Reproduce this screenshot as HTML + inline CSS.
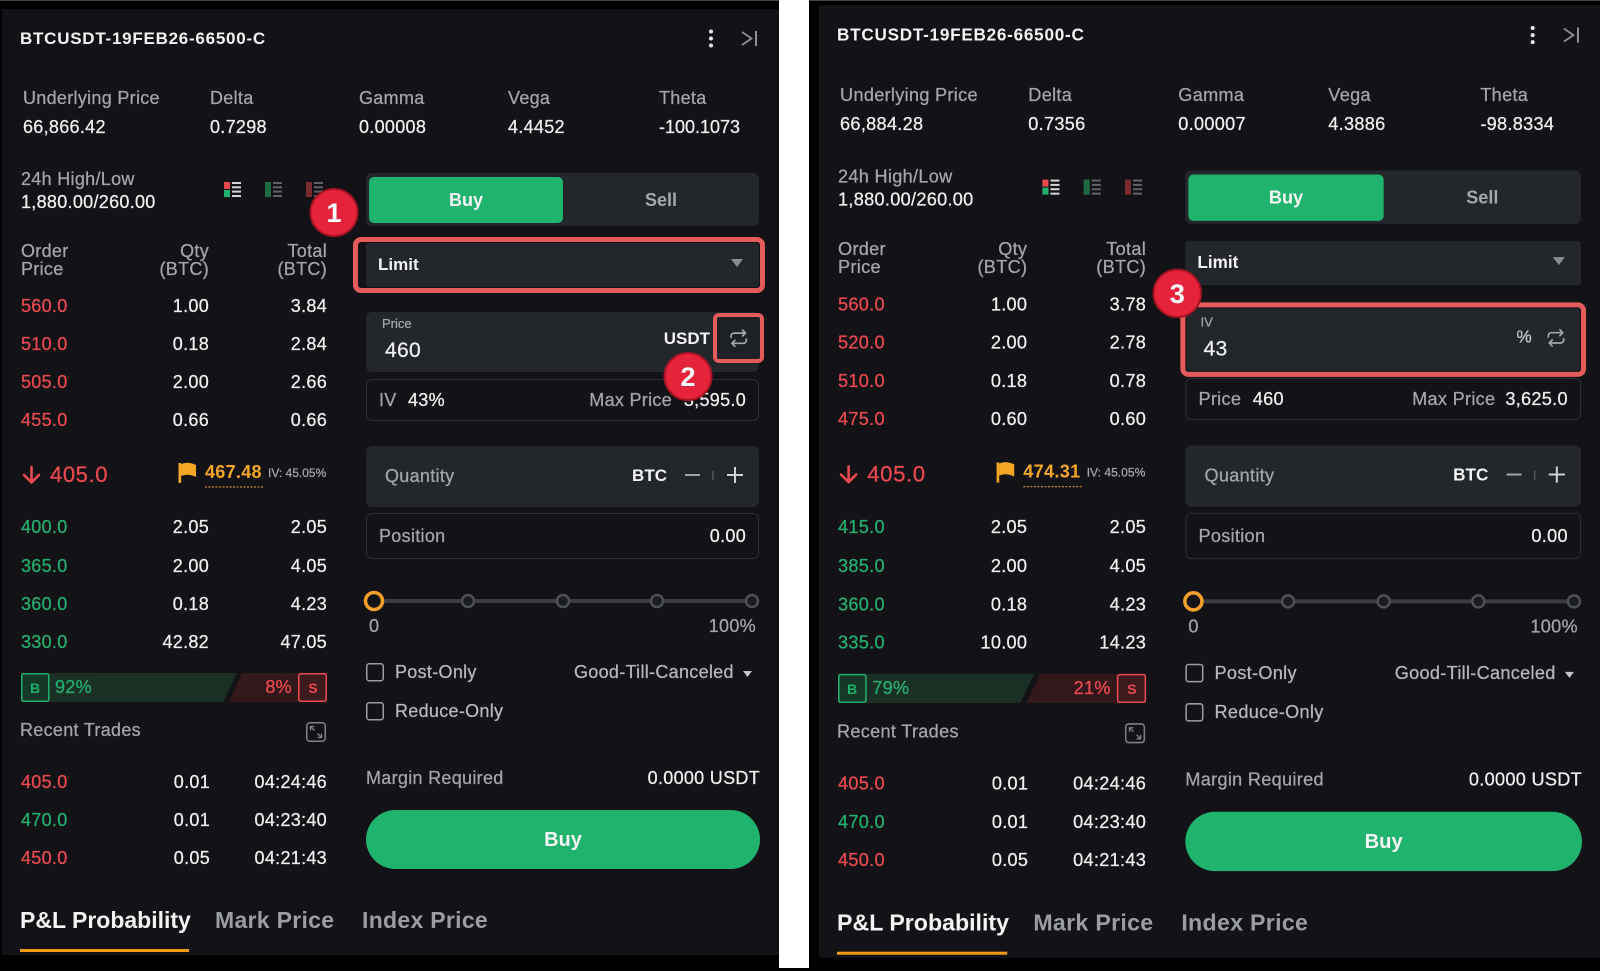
<!DOCTYPE html>
<html><head><meta charset="utf-8">
<style>
*{box-sizing:border-box}
html,body{margin:0;padding:0}
body{width:1600px;height:968px;overflow:hidden;background:#000;position:relative;font-family:"Liberation Sans",sans-serif}
.p{position:absolute;left:0;top:0;width:780px;height:968px}
.p2{transform:translate(816.9px,-3.65px) scale(1.0067);transform-origin:0 0}
.bg{position:absolute;left:2px;top:9px;width:777px;height:946px;background:#131317}
.t{position:absolute;white-space:nowrap;font-size:18px;line-height:20px;letter-spacing:0.3px;color:#f0f0f0;-webkit-text-stroke:0.25px currentColor}
.g{color:#a3a6ab}
.w{color:#f0f0f0}
.r{color:#ec4a50}
.gr{color:#22b06d}
.o{color:#f5a623}
.b{font-weight:bold;-webkit-text-stroke:0}
.bx{position:absolute;background:#23262b;border-radius:6px}
.ol{position:absolute;border:1px solid #2c2f35;border-radius:6px}
.red{position:absolute;border:5px solid #e55a5a;border-radius:8px}
svg.s{position:absolute;left:0;top:0}
</style></head><body>

<div style="position:absolute;left:0;top:0;width:779px;height:1px;background:#444"></div>
<div style="position:absolute;left:809px;top:0;width:791px;height:1px;background:#444"></div>
<div style="position:absolute;left:779px;top:0;width:30px;height:968px;background:#fff"></div>

<!-- ================= LEFT PANEL ================= -->
<div class="p">
<div class="bg"></div>

<div class="bx" style="left:366px;top:173px;width:393px;height:53px;border-radius:6px"></div>
<div style="position:absolute;left:369px;top:177px;width:194px;height:46px;background:#1fb36e;border-radius:5px"></div>

<div class="red" style="left:353px;top:237px;width:412px;height:56px"></div>
<div class="bx" style="left:366px;top:243px;width:393px;height:44px;border-radius:3px"></div>

<div class="bx" style="left:366px;top:312px;width:393px;height:60px"></div>
<div style="position:absolute;left:713px;top:313px;width:51px;height:50px;border:4.5px solid #e55a5a;border-radius:6px;background:#1d2024"></div>

<div class="ol" style="left:366px;top:379px;width:393px;height:42px"></div>
<div class="bx" style="left:366px;top:446px;width:393px;height:61px"></div>
<div class="ol" style="left:366px;top:513px;width:393px;height:46px"></div>
<div style="position:absolute;left:366px;top:810px;width:394px;height:59px;background:#1fb36e;border-radius:30px"></div>
<div style="position:absolute;left:20px;top:949px;width:169px;height:3px;background:#f39c12"></div>

<svg class="s" width="780" height="968">
<circle cx="711" cy="31.5" r="2" fill="#e8e8e8"/><circle cx="711" cy="38.5" r="2" fill="#e8e8e8"/><circle cx="711" cy="45.5" r="2" fill="#e8e8e8"/>
<polyline points="742,32 751.5,38.5 742,45" fill="none" stroke="#8e9196" stroke-width="1.8"/>
<line x1="756" y1="31" x2="756" y2="46" stroke="#8e9196" stroke-width="2"/>
<rect x="224" y="182" width="6" height="7" fill="#e5484d"/>
<rect x="224" y="190" width="6" height="7" fill="#22b06d"/>
<g fill="#d4d5d8"><rect x="232" y="182" width="9" height="2"/><rect x="232" y="186.3" width="9" height="2"/><rect x="232" y="190.6" width="9" height="2"/><rect x="232" y="195" width="9" height="2"/></g>
<rect x="265" y="182" width="6" height="15" fill="#1f6a43"/>
<g fill="#5f6267"><rect x="273" y="182" width="9" height="2"/><rect x="273" y="186.3" width="9" height="2"/><rect x="273" y="190.6" width="9" height="2"/><rect x="273" y="195" width="9" height="2"/></g>
<rect x="306" y="182" width="6" height="15" fill="#7a2b30"/>
<g fill="#5f6267"><rect x="314" y="182" width="9" height="2"/><rect x="314" y="186.3" width="9" height="2"/><rect x="314" y="190.6" width="9" height="2"/><rect x="314" y="195" width="9" height="2"/></g>
<path d="M31.5 467 V482 M24 475 L31.5 482.5 L39 475" fill="none" stroke="#ec4a50" stroke-width="2.6" stroke-linecap="round" stroke-linejoin="round"/>
<rect x="178.5" y="463" width="2.6" height="20" fill="#f5a623"/>
<path d="M181 464 Q188 461 196 465 V477 Q188 473 181 476 Z" fill="#f5a623"/>
<line x1="205" y1="487" x2="264" y2="487" stroke="#c88a1e" stroke-width="1.2" stroke-dasharray="2 1.5"/>
<polygon points="21,673 237,673 223,702 21,702" fill="#1b3025"/>
<polygon points="242,673 327,673 327,702 229,702" fill="#32181b"/>
<rect x="21.75" y="673.75" width="27" height="27.5" rx="2" fill="#163826" stroke="#22b06d" stroke-width="1.5"/>
<rect x="298.75" y="673.75" width="27.5" height="27.5" rx="2" fill="#3d1a1e" stroke="#ec4a50" stroke-width="1.5"/>
<rect x="306.75" y="722.75" width="18.5" height="18.5" rx="3" fill="none" stroke="#7d8086" stroke-width="1.5"/>
<path d="M310.5 730.5 V726.5 H314.5 M310.5 726.5 L314.5 730.5 M321.5 733.5 V737.5 H317.5 M321.5 737.5 L317.5 733.5" fill="none" stroke="#7d8086" stroke-width="1.3"/>
<polygon points="731,259 743,259 737,267" fill="#8a8d93"/>
<g transform="translate(728.5,328) scale(0.85)" fill="none" stroke="#a3a6ab" stroke-width="2" stroke-linecap="round" stroke-linejoin="round"><path d="M3 11V9.5A3.5 3.5 0 0 1 6.5 6H20 M16.5 2.5 L20 6 L16.5 9.5 M21 13v1.5A3.5 3.5 0 0 1 17.5 18H4 M7.5 21.5 L4 18 L7.5 14.5"/></g>
<line x1="685" y1="475" x2="700" y2="475" stroke="#a0a3a8" stroke-width="2"/>
<line x1="713" y1="471" x2="713" y2="480" stroke="#55585e" stroke-width="1.5"/>
<path d="M727 475 H743 M735 467 V483" stroke="#d0d2d5" stroke-width="2"/>
<line x1="374" y1="601" x2="752" y2="601" stroke="#3a3d43" stroke-width="4"/>
<circle cx="468" cy="601" r="6" fill="#1a1c20" stroke="#4d5056" stroke-width="2.5"/>
<circle cx="563" cy="601" r="6" fill="#1a1c20" stroke="#4d5056" stroke-width="2.5"/>
<circle cx="657" cy="601" r="6" fill="#1a1c20" stroke="#4d5056" stroke-width="2.5"/>
<circle cx="752" cy="601" r="6" fill="#1a1c20" stroke="#4d5056" stroke-width="2.5"/>
<circle cx="374" cy="601" r="8.5" fill="#131317" stroke="#f5a02a" stroke-width="3.5"/>
<rect x="366.75" y="663.75" width="16.5" height="17" rx="2.5" fill="none" stroke="#9a9da3" stroke-width="1.5"/>
<rect x="366.75" y="702.75" width="16.5" height="17" rx="2.5" fill="none" stroke="#9a9da3" stroke-width="1.5"/>
<polygon points="743,671 752,671 747.5,677" fill="#c5c7cb"/>
</svg>

<div class="t b" style="left:20px;top:29px;font-size:17px;letter-spacing:0.75px;color:#f4f4f4">BTCUSDT-19FEB26-66500-C</div>

<div class="t g" style="left:23px;top:88px">Underlying Price</div>
<div class="t g" style="left:210px;top:88px">Delta</div>
<div class="t g" style="left:359px;top:88px">Gamma</div>
<div class="t g" style="left:508px;top:88px">Vega</div>
<div class="t g" style="left:659px;top:88px">Theta</div>
<div class="t w" style="left:23px;top:117px">66,866.42</div>
<div class="t w" style="left:210px;top:117px">0.7298</div>
<div class="t w" style="left:359px;top:117px">0.00008</div>
<div class="t w" style="left:508px;top:117px">4.4452</div>
<div class="t w" style="left:659px;top:117px;letter-spacing:0">-100.1073</div>

<div class="t g" style="left:21px;top:169px">24h High/Low</div>
<div class="t w" style="left:21px;top:192px">1,880.00/260.00</div>

<div class="t g" style="left:21px;top:242px;line-height:18px">Order<br>Price</div>
<div class="t g" style="right:571px;top:242px;line-height:18px;text-align:right">Qty<br>(BTC)</div>
<div class="t g" style="right:453px;top:242px;line-height:18px;text-align:right">Total<br>(BTC)</div>

<div class="t r" style="left:21px;top:296px">560.0</div><div class="t w" style="right:571px;top:296px">1.00</div><div class="t w" style="right:453px;top:296px">3.84</div>
<div class="t r" style="left:21px;top:334px">510.0</div><div class="t w" style="right:571px;top:334px">0.18</div><div class="t w" style="right:453px;top:334px">2.84</div>
<div class="t r" style="left:21px;top:372px">505.0</div><div class="t w" style="right:571px;top:372px">2.00</div><div class="t w" style="right:453px;top:372px">2.66</div>
<div class="t r" style="left:21px;top:410px">455.0</div><div class="t w" style="right:571px;top:410px">0.66</div><div class="t w" style="right:453px;top:410px">0.66</div>

<div class="t r" style="left:50px;top:462px;font-size:22px;line-height:26px;letter-spacing:0.6px">405.0</div>
<div class="t o b" style="left:205px;top:462px">467.48</div>
<div class="t g" style="left:268px;top:465px;font-size:12px;line-height:16px;letter-spacing:0">IV: 45.05%</div>

<div class="t gr" style="left:21px;top:517px">400.0</div><div class="t w" style="right:571px;top:517px">2.05</div><div class="t w" style="right:453px;top:517px">2.05</div>
<div class="t gr" style="left:21px;top:556px">365.0</div><div class="t w" style="right:571px;top:556px">2.00</div><div class="t w" style="right:453px;top:556px">4.05</div>
<div class="t gr" style="left:21px;top:594px">360.0</div><div class="t w" style="right:571px;top:594px">0.18</div><div class="t w" style="right:453px;top:594px">4.23</div>
<div class="t gr" style="left:21px;top:632px">330.0</div><div class="t w" style="right:571px;top:632px">42.82</div><div class="t w" style="right:453px;top:632px">47.05</div>

<div class="t gr b" style="left:21px;top:678px;width:28px;text-align:center;font-size:14px;letter-spacing:0">B</div>
<div class="t gr" style="left:55px;top:677px">92%</div>
<div class="t r" style="right:488px;top:677px">8%</div>
<div class="t r b" style="left:299px;top:678px;width:28px;text-align:center;font-size:14px;letter-spacing:0">S</div>

<div class="t g" style="left:20px;top:720px">Recent Trades</div>
<div class="t r" style="left:21px;top:772px">405.0</div><div class="t w" style="right:570px;top:772px">0.01</div><div class="t w" style="right:453px;top:772px">04:24:46</div>
<div class="t gr" style="left:21px;top:810px">470.0</div><div class="t w" style="right:570px;top:810px">0.01</div><div class="t w" style="right:453px;top:810px">04:23:40</div>
<div class="t r" style="left:21px;top:848px">450.0</div><div class="t w" style="right:570px;top:848px">0.05</div><div class="t w" style="right:453px;top:848px">04:21:43</div>

<div class="t b" style="left:369px;top:190px;width:194px;text-align:center;font-size:18px;letter-spacing:0;color:#f4f4f4">Buy</div>
<div class="t b" style="left:563px;top:190px;width:196px;text-align:center;font-size:18px;letter-spacing:0;color:#a5a8ad">Sell</div>
<div class="t b" style="left:378px;top:255px;font-size:17px;letter-spacing:0;color:#f4f4f4">Limit</div>

<div class="t g" style="left:382px;top:316px;font-size:13px;line-height:16px;letter-spacing:0">Price</div>
<div class="t w" style="left:385px;top:338px;font-size:21px;line-height:25px">460</div>
<div class="t b" style="right:70px;top:329px;font-size:17px;letter-spacing:0;color:#f4f4f4">USDT</div>

<div class="t g" style="left:379px;top:390px">IV</div>
<div class="t w" style="left:408px;top:390px">43%</div>
<div class="t g" style="right:108px;top:390px">Max Price</div>
<div class="t w" style="right:34px;top:390px">3,595.0</div>

<div class="t g" style="left:385px;top:466px">Quantity</div>
<div class="t b" style="right:113px;top:466px;font-size:17px;letter-spacing:0;color:#f4f4f4">BTC</div>
<div class="t g" style="left:379px;top:526px">Position</div>
<div class="t w" style="right:34px;top:526px">0.00</div>

<div class="t g" style="left:369px;top:616px">0</div>
<div class="t g" style="right:24px;top:616px">100%</div>

<div class="t" style="left:395px;top:662px;color:#b5b8bd">Post-Only</div>
<div class="t" style="left:574px;top:662px;color:#b5b8bd">Good-Till-Canceled</div>
<div class="t" style="left:395px;top:701px;color:#b5b8bd">Reduce-Only</div>

<div class="t g" style="left:366px;top:768px">Margin Required</div>
<div class="t w" style="right:20px;top:768px">0.0000 USDT</div>

<div class="t b" style="left:366px;top:828px;width:394px;text-align:center;font-size:20px;line-height:24px;letter-spacing:0;color:#f6f6f6">Buy</div>

<div class="t b" style="left:20px;top:906px;font-size:23px;line-height:28px;letter-spacing:0;color:#f4f4f4">P&amp;L Probability</div>
<div class="t b" style="left:215px;top:906px;font-size:23px;line-height:28px;letter-spacing:0.3px;color:#9a9da3">Mark Price</div>
<div class="t b" style="left:362px;top:906px;font-size:23px;line-height:28px;letter-spacing:0.3px;color:#9a9da3">Index Price</div>

<svg class="s" width="780" height="968">
<circle cx="334" cy="212.5" r="23.5" fill="#e5243b" stroke="#a81324" stroke-width="2"/>
<text x="334" y="222" font-size="27" font-weight="bold" fill="#fff" text-anchor="middle" font-family="Liberation Sans, sans-serif">1</text>
<circle cx="688" cy="376.5" r="23.5" fill="#e5243b" stroke="#a81324" stroke-width="2"/>
<text x="688" y="386" font-size="27" font-weight="bold" fill="#fff" text-anchor="middle" font-family="Liberation Sans, sans-serif">2</text>
</svg>
</div>

<!-- ================= RIGHT PANEL ================= -->
<div class="p p2">
<div class="bg"></div>

<div class="bx" style="left:366px;top:173px;width:393px;height:53px;border-radius:6px"></div>
<div style="position:absolute;left:369px;top:177px;width:194px;height:46px;background:#1fb36e;border-radius:5px"></div>

<div class="bx" style="left:366px;top:243px;width:393px;height:44px;border-radius:3px"></div>

<div class="red" style="left:361px;top:304px;width:403px;height:74px;border-width:5.5px"></div>
<div class="bx" style="left:367px;top:310px;width:391px;height:62px;border-radius:3px"></div>

<div class="ol" style="left:366px;top:379px;width:393px;height:42px"></div>
<div class="bx" style="left:366px;top:446px;width:393px;height:61px"></div>
<div class="ol" style="left:366px;top:513px;width:393px;height:46px"></div>
<div style="position:absolute;left:366px;top:810px;width:394px;height:59px;background:#1fb36e;border-radius:30px"></div>
<div style="position:absolute;left:20px;top:949px;width:169px;height:3px;background:#f39c12"></div>

<svg class="s" width="780" height="968">
<circle cx="711" cy="31.5" r="2" fill="#e8e8e8"/><circle cx="711" cy="38.5" r="2" fill="#e8e8e8"/><circle cx="711" cy="45.5" r="2" fill="#e8e8e8"/>
<polyline points="742,32 751.5,38.5 742,45" fill="none" stroke="#8e9196" stroke-width="1.8"/>
<line x1="756" y1="31" x2="756" y2="46" stroke="#8e9196" stroke-width="2"/>
<rect x="224" y="182" width="6" height="7" fill="#e5484d"/>
<rect x="224" y="190" width="6" height="7" fill="#22b06d"/>
<g fill="#d4d5d8"><rect x="232" y="182" width="9" height="2"/><rect x="232" y="186.3" width="9" height="2"/><rect x="232" y="190.6" width="9" height="2"/><rect x="232" y="195" width="9" height="2"/></g>
<rect x="265" y="182" width="6" height="15" fill="#1f6a43"/>
<g fill="#5f6267"><rect x="273" y="182" width="9" height="2"/><rect x="273" y="186.3" width="9" height="2"/><rect x="273" y="190.6" width="9" height="2"/><rect x="273" y="195" width="9" height="2"/></g>
<rect x="306" y="182" width="6" height="15" fill="#7a2b30"/>
<g fill="#5f6267"><rect x="314" y="182" width="9" height="2"/><rect x="314" y="186.3" width="9" height="2"/><rect x="314" y="190.6" width="9" height="2"/><rect x="314" y="195" width="9" height="2"/></g>
<path d="M31.5 467 V482 M24 475 L31.5 482.5 L39 475" fill="none" stroke="#ec4a50" stroke-width="2.6" stroke-linecap="round" stroke-linejoin="round"/>
<rect x="178.5" y="463" width="2.6" height="20" fill="#f5a623"/>
<path d="M181 464 Q188 461 196 465 V477 Q188 473 181 476 Z" fill="#f5a623"/>
<line x1="205" y1="487" x2="264" y2="487" stroke="#c88a1e" stroke-width="1.2" stroke-dasharray="2 1.5"/>
<polygon points="21,673 216,673 202,702 21,702" fill="#1b3025"/>
<polygon points="222,673 327,673 327,702 208,702" fill="#32181b"/>
<rect x="21.75" y="673.75" width="27" height="27.5" rx="2" fill="#163826" stroke="#22b06d" stroke-width="1.5"/>
<rect x="298.75" y="673.75" width="27.5" height="27.5" rx="2" fill="#3d1a1e" stroke="#ec4a50" stroke-width="1.5"/>
<rect x="306.75" y="722.75" width="18.5" height="18.5" rx="3" fill="none" stroke="#7d8086" stroke-width="1.5"/>
<path d="M310.5 730.5 V726.5 H314.5 M310.5 726.5 L314.5 730.5 M321.5 733.5 V737.5 H317.5 M321.5 737.5 L317.5 733.5" fill="none" stroke="#7d8086" stroke-width="1.3"/>
<polygon points="731,259 743,259 737,267" fill="#8a8d93"/>
<g transform="translate(724,329) scale(0.85)" fill="none" stroke="#a3a6ab" stroke-width="2" stroke-linecap="round" stroke-linejoin="round"><path d="M3 11V9.5A3.5 3.5 0 0 1 6.5 6H20 M16.5 2.5 L20 6 L16.5 9.5 M21 13v1.5A3.5 3.5 0 0 1 17.5 18H4 M7.5 21.5 L4 18 L7.5 14.5"/></g>
<line x1="685" y1="475" x2="700" y2="475" stroke="#a0a3a8" stroke-width="2"/>
<line x1="713" y1="471" x2="713" y2="480" stroke="#55585e" stroke-width="1.5"/>
<path d="M727 475 H743 M735 467 V483" stroke="#d0d2d5" stroke-width="2"/>
<line x1="374" y1="601" x2="752" y2="601" stroke="#3a3d43" stroke-width="4"/>
<circle cx="468" cy="601" r="6" fill="#1a1c20" stroke="#4d5056" stroke-width="2.5"/>
<circle cx="563" cy="601" r="6" fill="#1a1c20" stroke="#4d5056" stroke-width="2.5"/>
<circle cx="657" cy="601" r="6" fill="#1a1c20" stroke="#4d5056" stroke-width="2.5"/>
<circle cx="752" cy="601" r="6" fill="#1a1c20" stroke="#4d5056" stroke-width="2.5"/>
<circle cx="374" cy="601" r="8.5" fill="#131317" stroke="#f5a02a" stroke-width="3.5"/>
<rect x="366.75" y="663.75" width="16.5" height="17" rx="2.5" fill="none" stroke="#9a9da3" stroke-width="1.5"/>
<rect x="366.75" y="702.75" width="16.5" height="17" rx="2.5" fill="none" stroke="#9a9da3" stroke-width="1.5"/>
<polygon points="743,671 752,671 747.5,677" fill="#c5c7cb"/>
</svg>

<div class="t b" style="left:20px;top:29px;font-size:17px;letter-spacing:0.75px;color:#f4f4f4">BTCUSDT-19FEB26-66500-C</div>

<div class="t g" style="left:23px;top:88px">Underlying Price</div>
<div class="t g" style="left:210px;top:88px">Delta</div>
<div class="t g" style="left:359px;top:88px">Gamma</div>
<div class="t g" style="left:508px;top:88px">Vega</div>
<div class="t g" style="left:659px;top:88px">Theta</div>
<div class="t w" style="left:23px;top:117px">66,884.28</div>
<div class="t w" style="left:210px;top:117px">0.7356</div>
<div class="t w" style="left:359px;top:117px">0.00007</div>
<div class="t w" style="left:508px;top:117px">4.3886</div>
<div class="t w" style="left:659px;top:117px">-98.8334</div>

<div class="t g" style="left:21px;top:169px">24h High/Low</div>
<div class="t w" style="left:21px;top:192px">1,880.00/260.00</div>

<div class="t g" style="left:21px;top:242px;line-height:18px">Order<br>Price</div>
<div class="t g" style="right:571px;top:242px;line-height:18px;text-align:right">Qty<br>(BTC)</div>
<div class="t g" style="right:453px;top:242px;line-height:18px;text-align:right">Total<br>(BTC)</div>

<div class="t r" style="left:21px;top:296px">560.0</div><div class="t w" style="right:571px;top:296px">1.00</div><div class="t w" style="right:453px;top:296px">3.78</div>
<div class="t r" style="left:21px;top:334px">520.0</div><div class="t w" style="right:571px;top:334px">2.00</div><div class="t w" style="right:453px;top:334px">2.78</div>
<div class="t r" style="left:21px;top:372px">510.0</div><div class="t w" style="right:571px;top:372px">0.18</div><div class="t w" style="right:453px;top:372px">0.78</div>
<div class="t r" style="left:21px;top:410px">475.0</div><div class="t w" style="right:571px;top:410px">0.60</div><div class="t w" style="right:453px;top:410px">0.60</div>

<div class="t r" style="left:50px;top:462px;font-size:22px;line-height:26px;letter-spacing:0.6px">405.0</div>
<div class="t o b" style="left:205px;top:462px">474.31</div>
<div class="t g" style="left:268px;top:465px;font-size:12px;line-height:16px;letter-spacing:0">IV: 45.05%</div>

<div class="t gr" style="left:21px;top:517px">415.0</div><div class="t w" style="right:571px;top:517px">2.05</div><div class="t w" style="right:453px;top:517px">2.05</div>
<div class="t gr" style="left:21px;top:556px">385.0</div><div class="t w" style="right:571px;top:556px">2.00</div><div class="t w" style="right:453px;top:556px">4.05</div>
<div class="t gr" style="left:21px;top:594px">360.0</div><div class="t w" style="right:571px;top:594px">0.18</div><div class="t w" style="right:453px;top:594px">4.23</div>
<div class="t gr" style="left:21px;top:632px">335.0</div><div class="t w" style="right:571px;top:632px">10.00</div><div class="t w" style="right:453px;top:632px">14.23</div>

<div class="t gr b" style="left:21px;top:678px;width:28px;text-align:center;font-size:14px;letter-spacing:0">B</div>
<div class="t gr" style="left:55px;top:677px">79%</div>
<div class="t r" style="right:488px;top:677px">21%</div>
<div class="t r b" style="left:299px;top:678px;width:28px;text-align:center;font-size:14px;letter-spacing:0">S</div>

<div class="t g" style="left:20px;top:720px">Recent Trades</div>
<div class="t r" style="left:21px;top:772px">405.0</div><div class="t w" style="right:570px;top:772px">0.01</div><div class="t w" style="right:453px;top:772px">04:24:46</div>
<div class="t gr" style="left:21px;top:810px">470.0</div><div class="t w" style="right:570px;top:810px">0.01</div><div class="t w" style="right:453px;top:810px">04:23:40</div>
<div class="t r" style="left:21px;top:848px">450.0</div><div class="t w" style="right:570px;top:848px">0.05</div><div class="t w" style="right:453px;top:848px">04:21:43</div>

<div class="t b" style="left:369px;top:190px;width:194px;text-align:center;font-size:18px;letter-spacing:0;color:#f4f4f4">Buy</div>
<div class="t b" style="left:563px;top:190px;width:196px;text-align:center;font-size:18px;letter-spacing:0;color:#a5a8ad">Sell</div>
<div class="t b" style="left:378px;top:255px;font-size:17px;letter-spacing:0;color:#f4f4f4">Limit</div>

<div class="t g" style="left:381px;top:316px;font-size:13px;line-height:16px;letter-spacing:0">IV</div>
<div class="t w" style="left:384px;top:338px;font-size:21px;line-height:25px">43</div>
<div class="t" style="left:695px;top:329px;font-size:17px;color:#c5c7cb">%</div>

<div class="t g" style="left:379px;top:390px">Price</div>
<div class="t w" style="left:433px;top:390px">460</div>
<div class="t g" style="right:106px;top:390px">Max Price</div>
<div class="t w" style="right:34px;top:390px">3,625.0</div>

<div class="t g" style="left:385px;top:466px">Quantity</div>
<div class="t b" style="right:113px;top:466px;font-size:17px;letter-spacing:0;color:#f4f4f4">BTC</div>
<div class="t g" style="left:379px;top:526px">Position</div>
<div class="t w" style="right:34px;top:526px">0.00</div>

<div class="t g" style="left:369px;top:616px">0</div>
<div class="t g" style="right:24px;top:616px">100%</div>

<div class="t" style="left:395px;top:662px;color:#b5b8bd">Post-Only</div>
<div class="t" style="left:574px;top:662px;color:#b5b8bd">Good-Till-Canceled</div>
<div class="t" style="left:395px;top:701px;color:#b5b8bd">Reduce-Only</div>

<div class="t g" style="left:366px;top:768px">Margin Required</div>
<div class="t w" style="right:20px;top:768px">0.0000 USDT</div>

<div class="t b" style="left:366px;top:828px;width:394px;text-align:center;font-size:20px;line-height:24px;letter-spacing:0;color:#f6f6f6">Buy</div>

<div class="t b" style="left:20px;top:906px;font-size:23px;line-height:28px;letter-spacing:0;color:#f4f4f4">P&amp;L Probability</div>
<div class="t b" style="left:215px;top:906px;font-size:23px;line-height:28px;letter-spacing:0.3px;color:#9a9da3">Mark Price</div>
<div class="t b" style="left:362px;top:906px;font-size:23px;line-height:28px;letter-spacing:0.3px;color:#9a9da3">Index Price</div>

<svg class="s" width="780" height="968">
<circle cx="358" cy="295" r="23.5" fill="#e5243b" stroke="#a81324" stroke-width="2"/>
<text x="358" y="304.5" font-size="27" font-weight="bold" fill="#fff" text-anchor="middle" font-family="Liberation Sans, sans-serif">3</text>
</svg>
</div>

</body></html>
